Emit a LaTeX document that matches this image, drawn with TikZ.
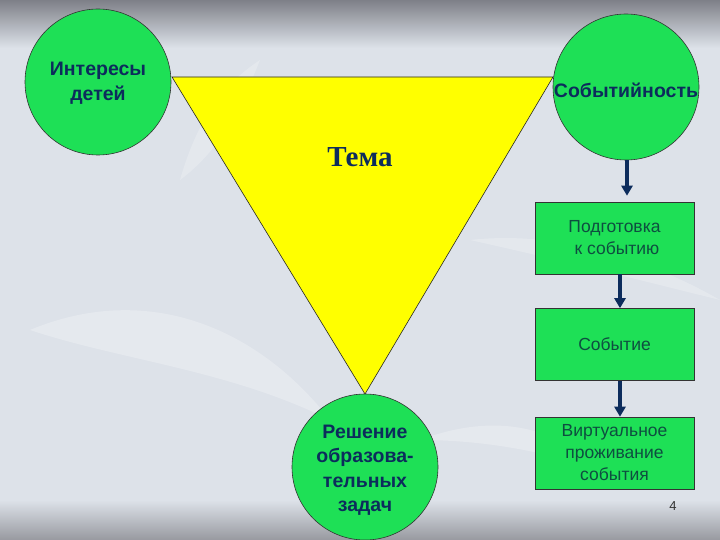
\documentclass[tikz,border=0pt]{standalone}
\usepackage{fontspec}
\setmainfont{Liberation Sans}
\newfontfamily\serifb{Liberation Serif}
\usetikzlibrary{arrows.meta}
\definecolor{bgmain}{HTML}{DDE2E9}
\definecolor{bgdark}{HTML}{7E8088}
\definecolor{gfill}{HTML}{1EE056}
\definecolor{navy}{HTML}{0C2C5C}
\definecolor{boxtext}{HTML}{0E4E40}
\definecolor{triyellow}{RGB}{255,255,0}
\tikzset{
  circ/.style={circle, draw=black!80, line width=0.6pt, fill=gfill, minimum size=146pt, inner sep=0pt},
  ctext/.style={align=center, inner sep=0pt, font=\bfseries\fontsize{19.5}{24.5}\selectfont, text=navy},
  stage/.style={rectangle, draw=black!80, line width=0.6pt, fill=gfill, minimum width=159pt, minimum height=72pt, inner sep=0pt, align=center, font=\fontsize{17.5}{22}\selectfont, text=boxtext},
  flow/.style={draw=navy, line width=3.5pt, -{Triangle[length=10pt,width=11pt]}}
}
\begin{document}
\begin{tikzpicture}[x=1pt,y=-1pt]
\useasboundingbox (0,0) rectangle (720,540);
% background
\fill[bgmain] (0,0) rectangle (720,540);
\shade[top color=bgdark, bottom color=bgmain] (0,0) rectangle (720,48);
\shade[top color=bgmain, bottom color=bgdark!80] (0,500) rectangle (720,540);
% faint leaves
\fill[white, opacity=0.25] (30,330) .. controls (150,280) and (260,330) .. (330,420) .. controls (230,370) and (120,360) .. (30,330);
\fill[white, opacity=0.22] (180,180) .. controls (200,110) and (230,80) .. (260,60) .. controls (240,110) and (220,150) .. (180,180);
\fill[white, opacity=0.22] (470,240) .. controls (560,230) and (650,260) .. (720,300) .. controls (640,280) and (560,260) .. (470,240);
\fill[white, opacity=0.25] (420,440) .. controls (500,410) and (560,430) .. (600,470) .. controls (540,450) and (480,440) .. (420,440);
% triangle
\coordinate (tl) at (172,77);
\coordinate (tr) at (553,77);
\coordinate (ap) at (365,394);
\fill[triyellow] (tl) -- (tr) -- (ap) -- cycle;
\draw[black!85, line width=0.6pt] (tl) -- (tr) -- (ap) -- cycle;
\node[font=\serifb\bfseries\fontsize{29}{34}\selectfont, text=navy] (tema) at (360,157) {Тема};
% circles
\node[circ] (c1) at (98,82) {};
\node[ctext] (c1t) at (98,83) {Интересы\\детей};
\node[circ] (c2) at (626,87) {};
\node[ctext] (c2t) at (626,90) {Событийность};
\node[circ] (c3) at (365,467) {};
\node[ctext] (c3t) at (365,470) {Решение\\образова-\\тельных\\задач};
% boxes
\node[stage] (b1) at (614.5,238) {Подготовка\\ \ к событию};
\node[stage] (b2) at (614.5,344.5) {Событие};
\node[stage] (b3) at (614.5,453) {Виртуальное\\проживание\\события};
% arrows
\draw[flow, shorten >=6pt] (c2.south -| 627,0) -- (b1.north -| 627,0);
\draw[flow] (b1.south -| 620,0) -- (b2.north -| 620,0);
\draw[flow] (b2.south -| 620,0) -- (b3.north -| 620,0);
\node[font=\fontsize{13}{15}\selectfont, text=black!80] (pg) at (673,506) {4};
\end{tikzpicture}
\end{document}
